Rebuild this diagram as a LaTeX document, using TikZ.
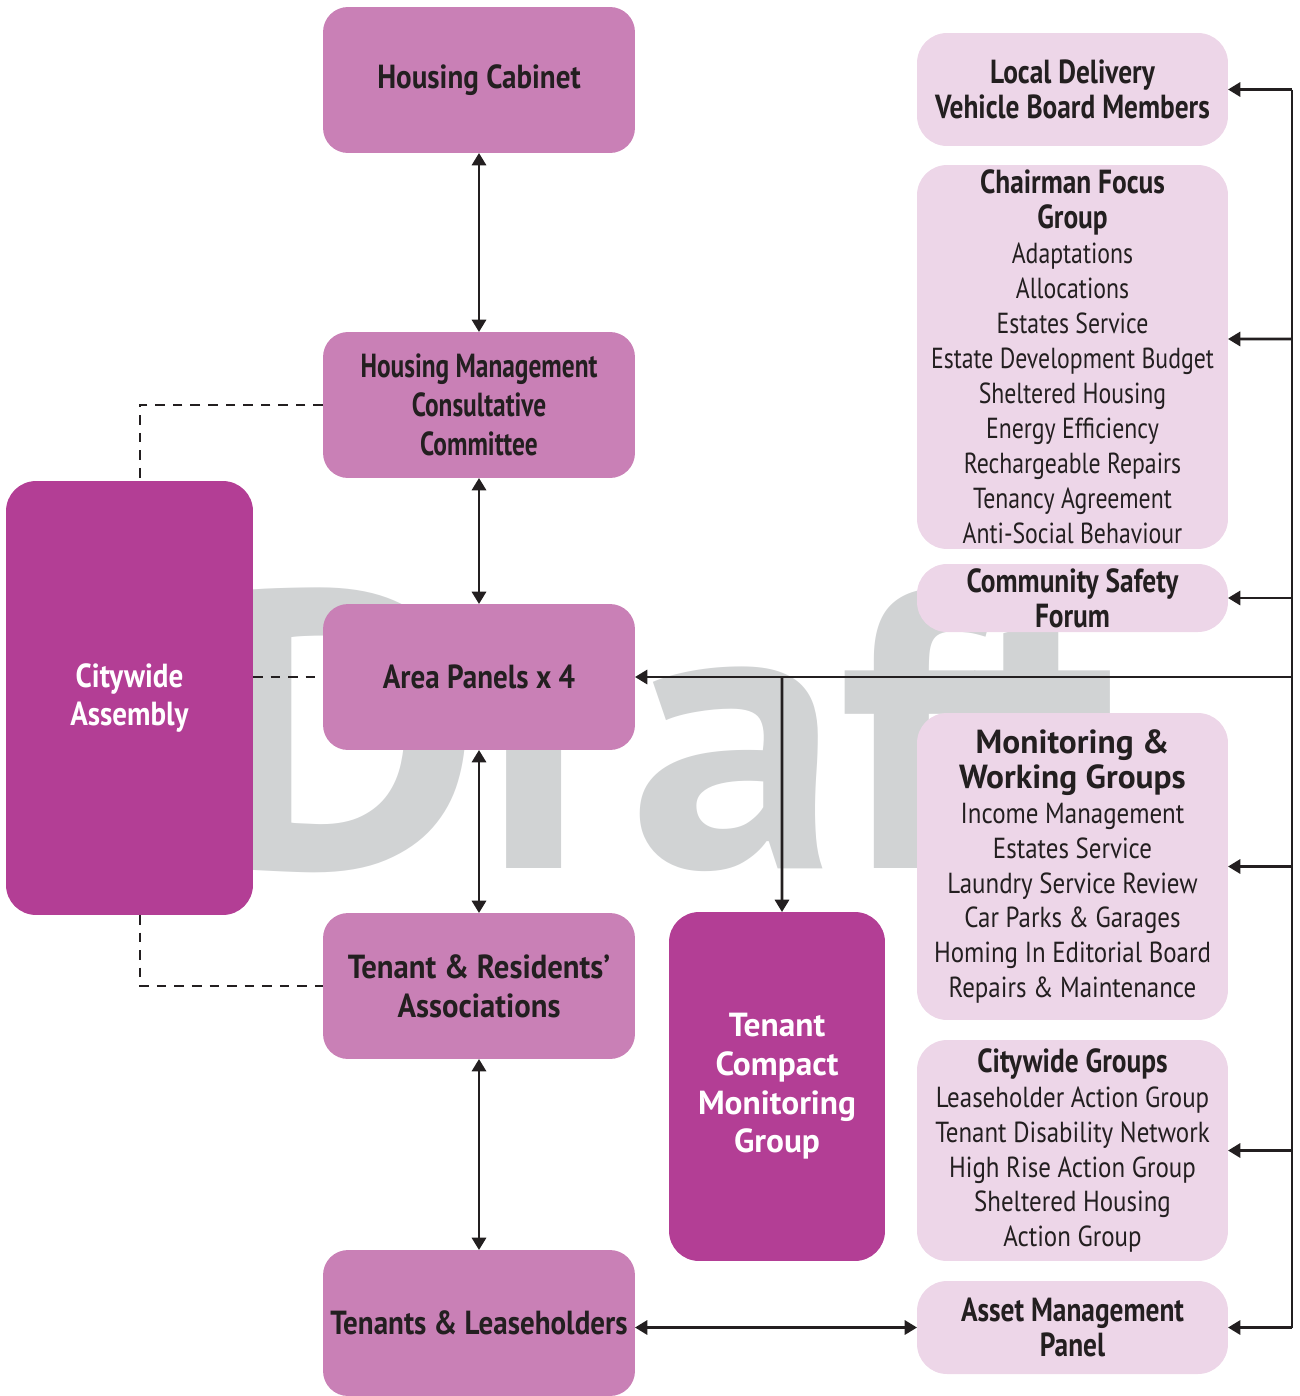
\documentclass[tikz,border=0pt]{standalone}
\usepackage{fontspec}
\setmainfont{PT Sans}[FakeStretch=0.82]
\newfontfamily\panelfont{PT Sans}[FakeStretch=0.87]
\newfontfamily\trafont{PT Sans}[FakeStretch=0.92]
\newfontfamily\hmccfont{PT Sans}[FakeStretch=0.76]
\newfontfamily\listfont{PT Sans}[FakeStretch=0.86]
\newfontfamily\widefont{PT Sans}
\newfontfamily\draftfont{PT Sans}[FakeStretch=1.07]
\usetikzlibrary{arrows.meta,calc,positioning}
\tikzset{
    %Define standard arrow tip
    >={Triangle[length=7pt,width=8pt]}
}
\definecolor{panelpink}{RGB}{201,128,182}
\definecolor{assemblymagenta}{RGB}{179,62,149}
\definecolor{grouppink}{RGB}{237,214,232}
\definecolor{draftgrey}{RGB}{209,211,212}
\definecolor{linkblack}{RGB}{35,31,32}

\newcommand{\panelhead}{\bfseries\fontsize{19}{22}\selectfont}
\newcommand{\grouphead}{\bfseries\fontsize{19}{19.9}\selectfont}
\newcommand{\listline}{\mdseries\fontsize{16.5}{19.9}\selectfont}
% one row of a list inside a group box
\newcommand{\grouprow}[1]{{\listline #1}}
\newcommand{\grouprowwide}[1]{{\listfont\listline #1}}

\begin{document}
\begin{tikzpicture}[x=0.02cm, y=-0.02cm, every text node part/.style={align=center},
    link/.style={draw=linkblack, line width=1.6pt},
    dashlink/.style={draw=linkblack, line width=1.3pt, dash pattern=on 5.5pt off 4.5pt},
    panel/.style={fill=panelpink, rounded corners=0.5cm, minimum width=6.24cm, minimum height=2.92cm, inner sep=0pt, outer sep=0pt, text=linkblack, font=\panelfont\panelhead},
    assembly/.style={fill=assemblymagenta, rounded corners=0.6cm, inner sep=0pt, outer sep=0pt, text=white, font=\panelhead},
    group/.style={fill=grouppink, rounded corners=0.6cm, minimum width=6.22cm, inner sep=0pt, outer sep=0pt, text=linkblack, font=\grouphead}]

	\useasboundingbox (0,0) rectangle (1299,1396);

	% watermark behind everything
	\node[anchor=base west, inner sep=0pt, text=draftgrey, font=\draftfont\bfseries\fontsize{225}{225}\selectfont] (draft) at (208,868) {Draft};

	% left column
	\node[panel] (cabinet) at (479,80) {Housing Cabinet};
	\node[panel, font=\hmccfont\panelhead] (hmcc) at (479,405) {Housing Management\\Consultative\\Committee};
	\node[panel] (areapanels) at (479,677) {Area Panels x 4};
	\node[panel, font=\trafont\panelhead] (tra) at (479,986) {Tenant \& Residents’\\Associations};
	\node[panel] (tenants) at (479,1323) {Tenants \& Leaseholders};

	\node[assembly, minimum width=4.94cm, minimum height=8.68cm, font=\panelfont\panelhead] (assembly) at (129.5,698) {Citywide\\Assembly};
	\node[assembly, minimum width=4.32cm, minimum height=6.98cm, font=\widefont\panelhead] (compact) at (777,1086.5) {Tenant\\Compact\\Monitoring\\Group};

	% right column
	\node[group, minimum height=2.26cm] (delivery) at (1072.5,89.5) {Local Delivery\\Vehicle Board Members};
	\node[group, minimum height=7.68cm] (focus) at (1072.5,357) {Chairman Focus\\Group\\
		\grouprow{Adaptations}\\\grouprow{Allocations}\\\grouprow{Estates Service}\\
		\grouprow{Estate Development Budget}\\\grouprow{Sheltered Housing}\\
		\grouprow{Energy Efficiency}\\\grouprow{Rechargeable Repairs}\\
		\grouprow{Tenancy Agreement}\\\grouprow{Anti-Social Behaviour}};
	\node[group, minimum height=1.36cm] (safety) at (1072.5,598) {Community Safety\\Forum};
	\node[group, minimum height=6.14cm, font=\widefont\grouphead] (monitoring) at (1072.5,866.5) {Monitoring \&\\Working Groups\\
		\grouprowwide{Income Management}\\\grouprowwide{Estates Service}\\
		\grouprowwide{Laundry Service Review}\\\grouprowwide{Car Parks \& Garages}\\
		\grouprowwide{Homing In Editorial Board}\\\grouprowwide{Repairs \& Maintenance}};
	\node[group, minimum height=4.42cm] (citywide) at (1072.5,1150.5) {Citywide Groups\\
		\grouprowwide{Leaseholder Action Group}\\\grouprowwide{Tenant Disability Network}\\
		\grouprowwide{High Rise Action Group}\\\grouprowwide{Sheltered Housing}\\
		\grouprowwide{Action Group}};
	\node[group, minimum height=1.86cm] (asset) at (1072.5,1327.5) {Asset Management\\Panel};

	% vertical links
	\draw[link,<->] (cabinet) -- (hmcc);
	\draw[link,<->] (hmcc) -- (areapanels);
	\draw[link,<->] (areapanels) -- (tra);
	\draw[link,<->] (tra) -- (tenants);
	\draw[link,<->] (asset.west -| tenants.east) -- (asset.west);

	% dashed links to the assembly
	\draw[dashlink] (hmcc.west) -| ([xshift=0.21cm]assembly.north);
	\draw[dashlink] (areapanels.west -| assembly.east) -- (areapanels.west);
	\draw[dashlink] ([xshift=0.21cm]assembly.south) |- (tra.west);

	% rail on the right
	\coordinate (rail) at (1292,0);
	\draw[link] (rail |- delivery.east) -- (rail |- asset.east);
	\draw[link,->] (rail |- delivery.east) -- (delivery.east);
	\draw[link,->] (rail |- focus.east) ++(0,-18) -- ([yshift=0.36cm]focus.east);
	\draw[link,->] (rail |- safety.east) -- (safety.east);
	\draw[link,->] (rail |- monitoring.east) -- (monitoring.east);
	\draw[link,->] (rail |- citywide.east) -- (citywide.east);
	\draw[link,->] (rail |- asset.east) -- (asset.east);
	\draw[link,->] (rail |- areapanels.east) -- (areapanels.east);
	\draw[link,->] (areapanels.east -| compact.north) ++(5,0) -- ([xshift=0.1cm]compact.north);

\end{tikzpicture}
\end{document}
